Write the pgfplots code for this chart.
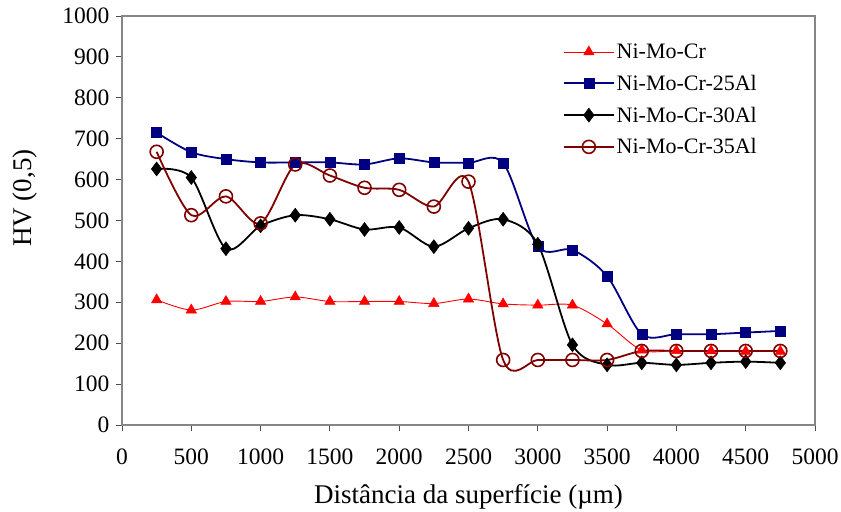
\documentclass[border=0pt]{standalone}
\usepackage{pgfplots}
\pgfplotsset{compat=1.18}
\usepackage{fontspec}
\setmainfont{Liberation Serif}
\definecolor{cred}{RGB}{255,0,0}
\definecolor{cnavy}{RGB}{0,0,128}
\definecolor{cmaroon}{RGB}{128,0,0}
\definecolor{cframe}{RGB}{134,134,134}
\begin{document}
\begin{tikzpicture}
\path[use as bounding box] (-122bp,-87bp) rectangle (719bp,425bp);
\begin{axis}[
  at={(0,0)}, anchor=south west,
  scale only axis, width=693bp, height=409bp,
  xmin=0, xmax=5000, ymin=0, ymax=1000,
  xtick={0,500,...,5000}, ytick={0,100,...,1000},
  xtick pos=bottom, ytick pos=left,
  tick align=outside, major tick length=6bp,
  tick style={color=black!70, line width=0.8bp},
  axis line style={color=cframe, line width=1.2bp},
  /pgf/number format/assume math mode=true,
  /pgf/number format/1000 sep={},
  ticklabel style={font=\fontsize{23.5bp}{28bp}\selectfont},
  xticklabel style={yshift=-14bp},
  yticklabel style={xshift=-3bp},
  xlabel={Distância da superfície (µm)},
  ylabel={HV (0,5)},
  label style={font=\fontsize{27bp}{32bp}\selectfont},
  xlabel style={at={(axis description cs:0.5,0)}, anchor=center, yshift=-72bp},
  ylabel style={at={(axis description cs:-0.14,0.555)}, anchor=center},
  legend style={draw=none, fill=none, at={(rel axis cs:0.636,0.937)}, anchor=north west,
    font=\fontsize{22bp}{26bp}\selectfont, row sep=11bp, inner sep=0pt,
    cells={anchor=west}},
  legend image code/.code={\draw[mark repeat=2,mark phase=2,#1] plot coordinates {(0bp,0bp) (25bp,0bp) (50bp,0bp)};},
  every axis plot/.append style={smooth, tension=0.5},
]
\addplot[color=cred, line width=0.9bp, mark=triangle*, mark size=6bp, mark options={fill=cred, draw=cred, line width=0.5bp}] coordinates {
(250,306) (500,281) (750,302) (1000,302) (1250,313) (1500,302) (1750,302) (2000,302) (2250,297) (2500,308)
(2750,296) (3000,293) (3250,293) (3500,247) (3750,183) (4000,182) (4250,181) (4500,180) (4750,180)};
\addlegendentry{Ni-Mo-Cr}
\addplot[color=cnavy, line width=1.8bp, mark=square*, mark size=5bp, mark options={fill=cnavy, draw=cnavy, line width=0.5bp}] coordinates {
(250,715) (500,667) (750,650) (1000,642) (1250,642) (1500,642) (1750,637) (2000,652) (2250,642) (2500,641)
(2750,641) (3000,436) (3250,428) (3500,364) (3750,222) (4000,222) (4250,222) (4500,226) (4750,230)};
\addlegendentry{Ni-Mo-Cr-25Al}
\addplot[color=black, line width=1.8bp, mark=diamond*, mark size=7bp, mark options={fill=black, draw=black, line width=0.5bp}] coordinates {
(250,626) (500,605) (750,431) (1000,487) (1250,513) (1500,503) (1750,478) (2000,483) (2250,436) (2500,481)
(2750,503) (3000,442) (3250,196) (3500,147) (3750,152) (4000,147) (4250,152) (4500,155) (4750,152)};
\addlegendentry{Ni-Mo-Cr-30Al}
\addplot[color=cmaroon, line width=1.8bp, mark=o, mark size=6.5bp, mark options={draw=cmaroon, line width=1.6bp}] coordinates {
(250,668) (500,513) (750,559) (1000,493) (1250,637) (1500,610) (1750,580) (2000,575) (2250,534) (2500,595)
(2750,159) (3000,159) (3250,159) (3500,159) (3750,181) (4000,181) (4250,181) (4500,181) (4750,181)};
\addlegendentry{Ni-Mo-Cr-35Al}
\end{axis}
\end{tikzpicture}
\end{document}
